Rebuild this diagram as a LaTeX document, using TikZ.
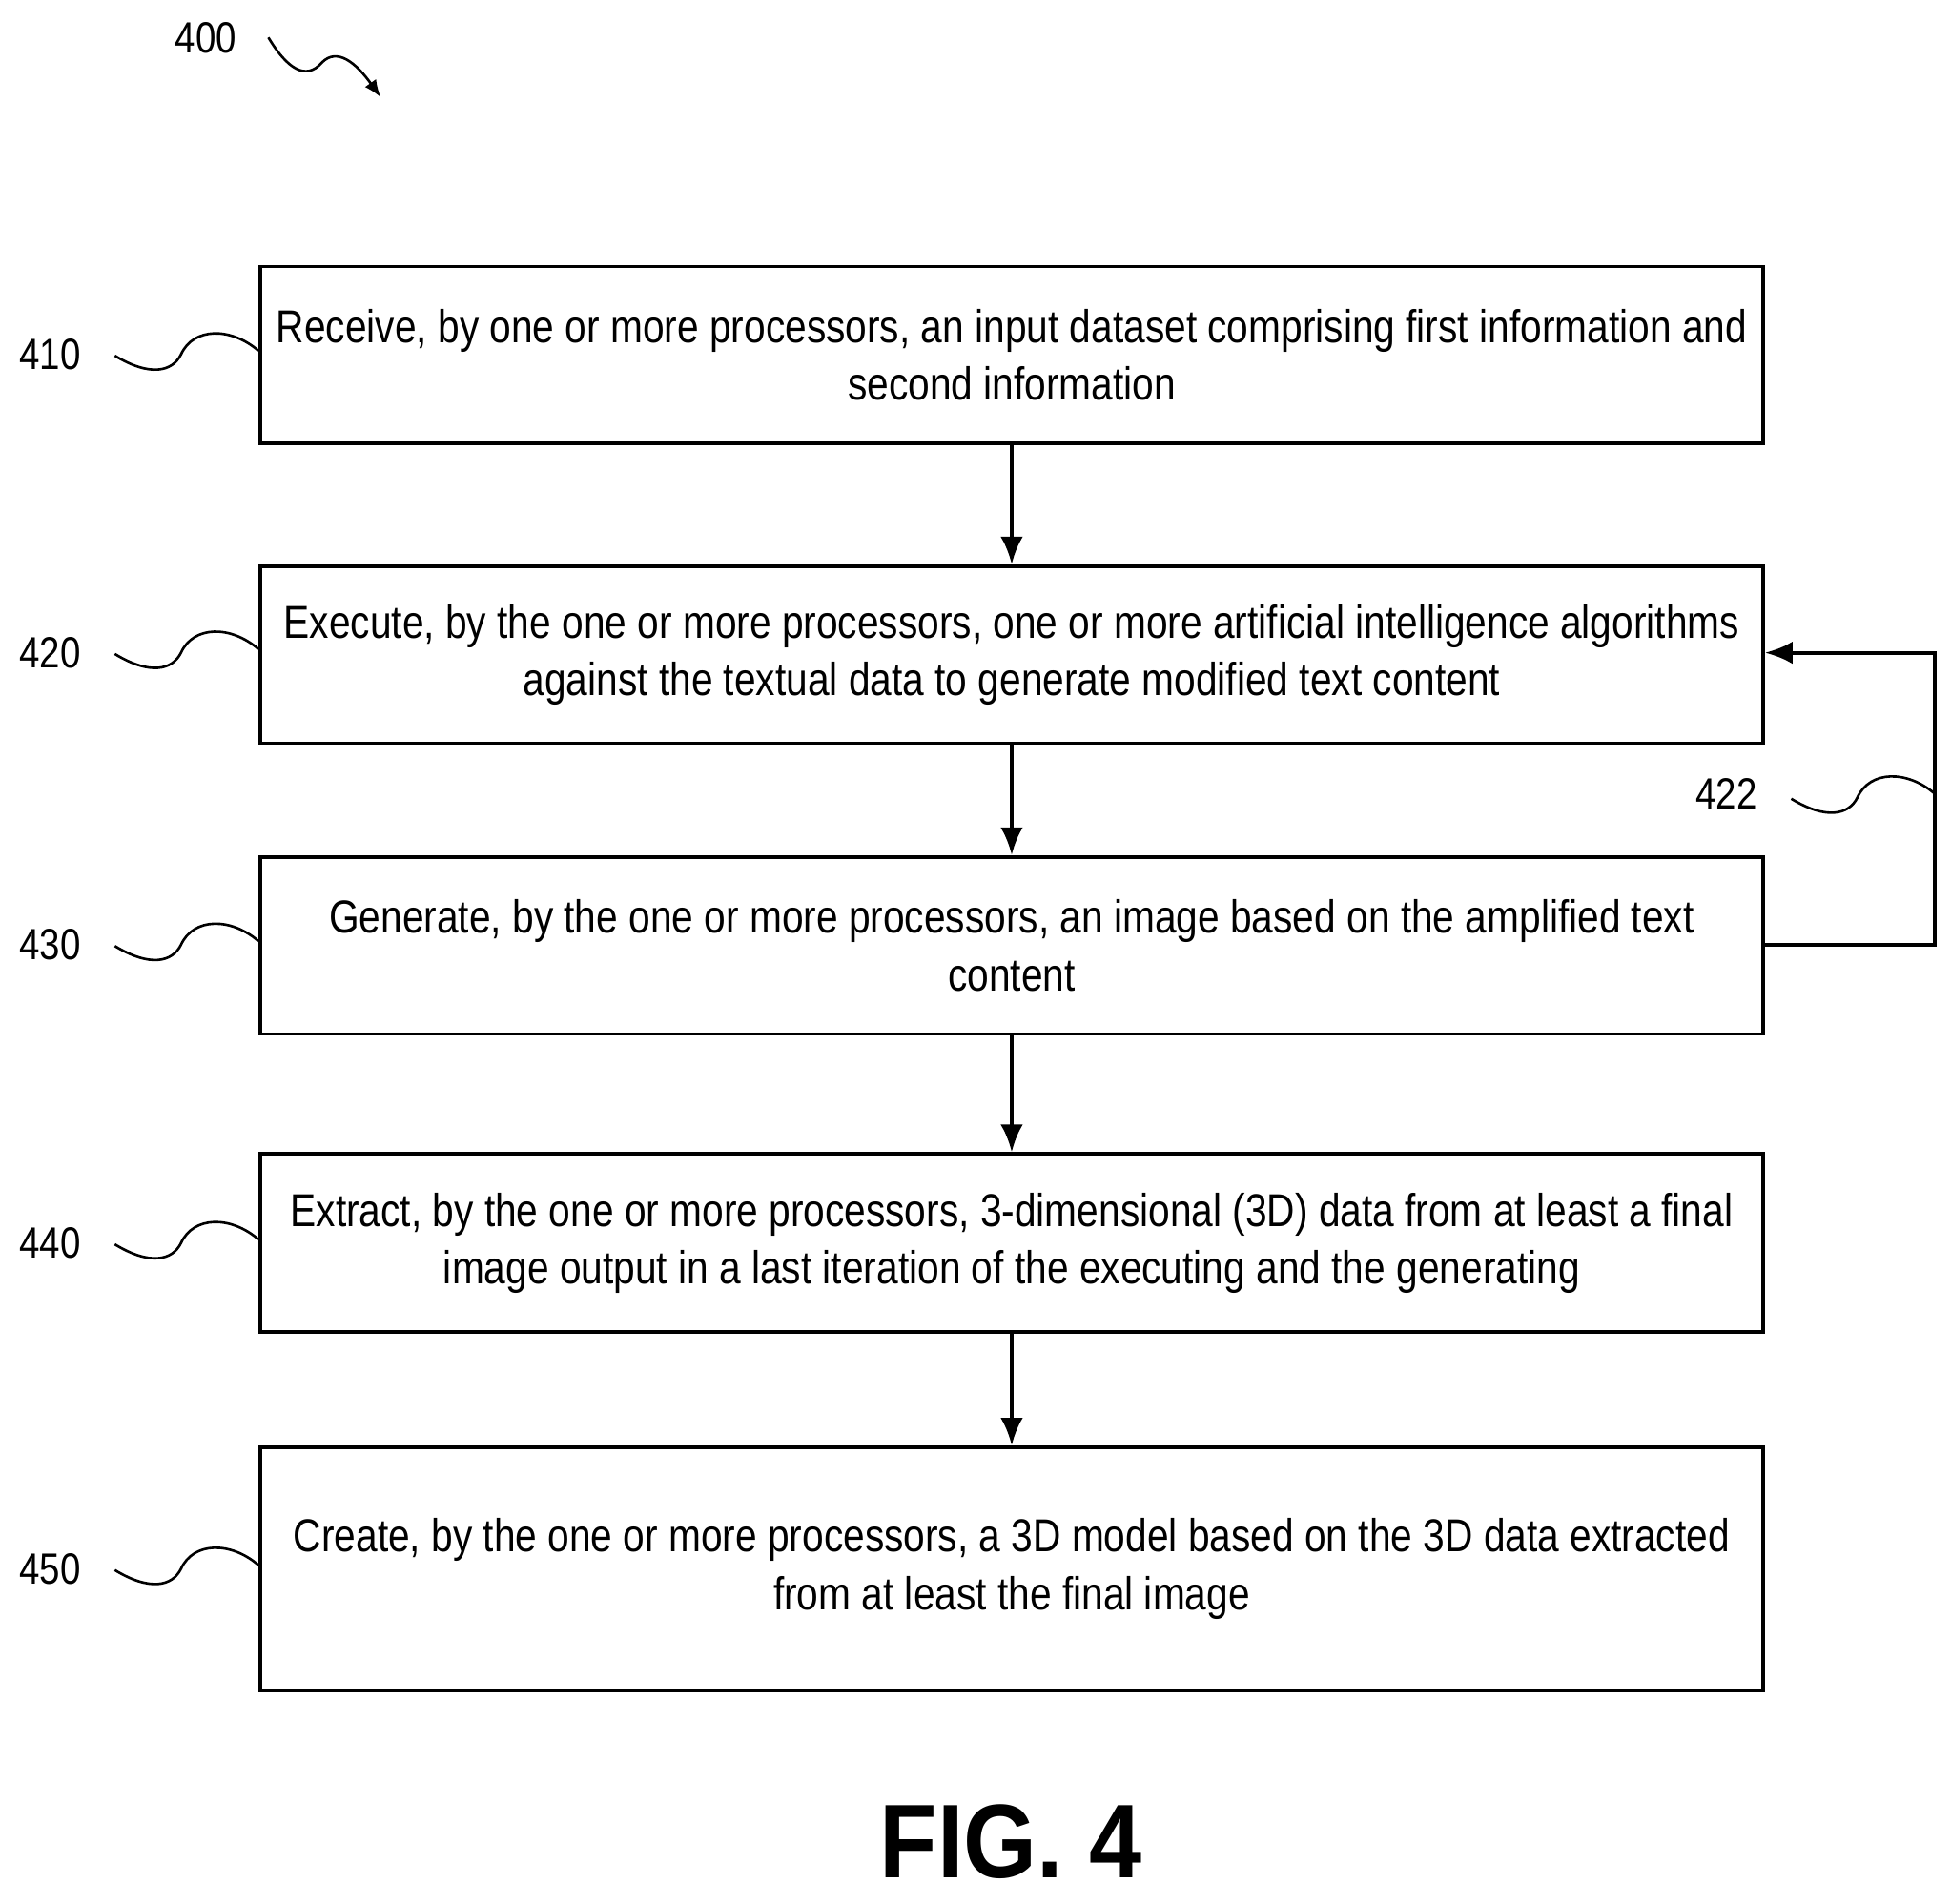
\documentclass[tikz,border=0pt]{standalone}
\usepackage{fontspec}
\setmainfont{Liberation Sans}[FakeStretch=0.84]
\newfontfamily\figfont{Liberation Sans}[FakeStretch=0.9]
\begin{document}
\begin{tikzpicture}[x=1pt,y=-1pt,
  box/.style={draw,line width=3pt,minimum width=1204pt,anchor=north west,inner sep=0pt,align=center,font=\fontsize{37}{46}\selectfont},
  arr/.style={line width=3pt,-{Latex[length=22pt,width=18pt]}},
  lab/.style={font=\fontsize{35}{40}\selectfont},
  sq/.style={line width=2pt}]
\usetikzlibrary{arrows.meta}
\useasboundingbox (0,0) rectangle (1563,1525);
\node[box,minimum height=142pt] (b410) at (207,212) {Receive, by one or more processors, an input dataset comprising first information and\\second information};
\node[box,minimum height=142pt] (b420) at (207,452) {Execute, by the one or more processors, one or more artificial intelligence algorithms\\against the textual data to generate modified text content};
\node[box,minimum height=142pt] (b430) at (207,685) {Generate, by the one or more processors, an image based on the amplified text\\content};
\node[box,minimum height=143pt] (b440) at (207,923) {Extract, by the one or more processors, 3-dimensional (3D) data from at least a final\\image output in a last iteration of the executing and the generating};
\node[box,minimum height=195pt] (b450) at (207,1158) {Create, by the one or more processors, a 3D model based on the 3D data extracted\\from at least the final image};
\draw[arr] (b410.south) -- (b420.north);
\draw[arr] (b420.south) -- (b430.north);
\draw[arr] (b430.south) -- (b440.north);
\draw[arr] (b440.south) -- (b450.north);
\coordinate (c1) at (1550,757);
\coordinate (c2) at (1550,523);
\draw[arr] (b430.east|-c1) -- (c1) -- (c2) -- (b420.east|-c2);
\foreach \n/\y in {410/284,420/523,430/757,440/996,450/1257}{
  \node[lab] (l\n) at (40,\y) {\n};
  \draw[sq] (92,\y+1) .. controls (120,\y+18) and (138,\y+14) .. (145,\y) .. controls (155,\y-22) and (185,\y-22) .. (207,\y-3);
}
\node[lab] (l422) at (1383,636) {422};
\draw[sq] (1435,640) .. controls (1463,657) and (1481,653) .. (1488,639) .. controls (1498,617) and (1528,617) .. (1550,636);
\node[lab] (l400) at (165,30) {400};
\draw[sq,-{Latex[length=14pt,width=11pt]}] (215,30) .. controls (230,55) and (245,65) .. (258,50) .. controls (270,38) and (285,50) .. (305,78);
\node[font=\figfont\bfseries\fontsize{84}{90}\selectfont] (fig) at (810,1476) {FIG. 4};
\end{tikzpicture}
\end{document}
